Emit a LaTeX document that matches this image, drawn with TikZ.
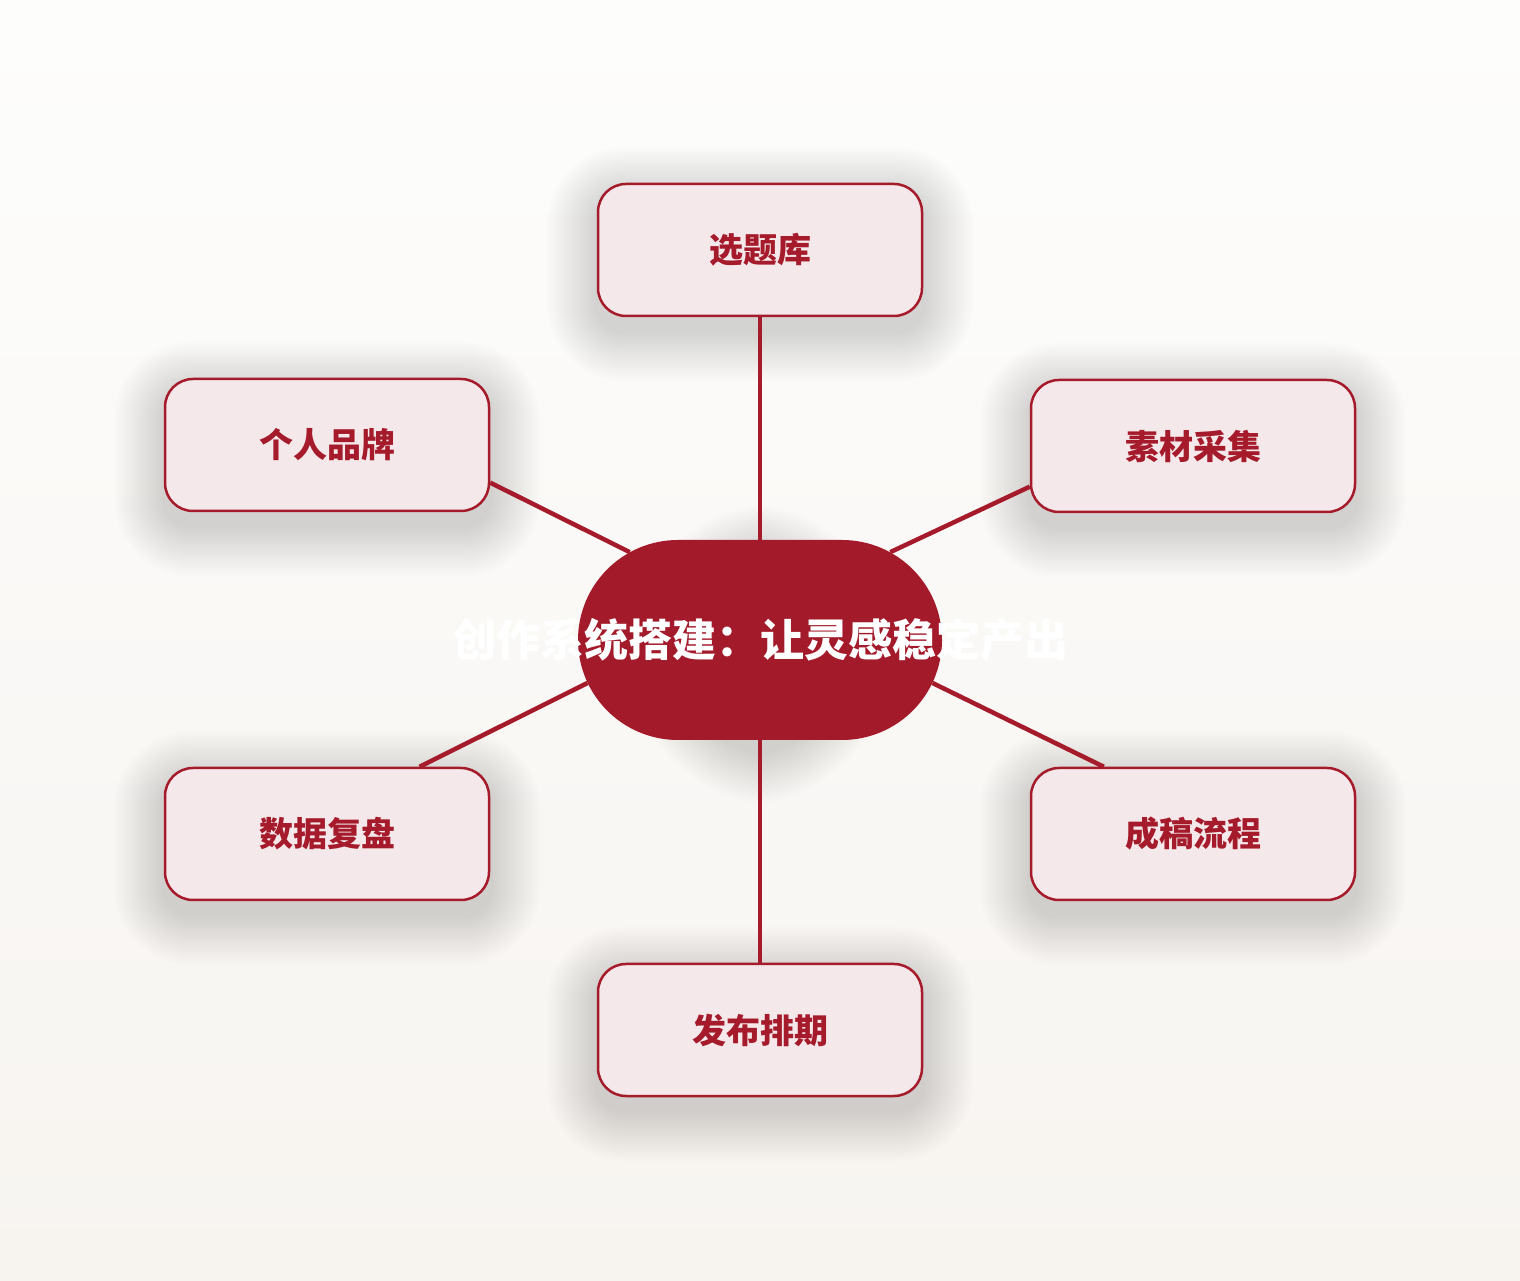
\documentclass[tikz,border=0pt]{standalone}
\usepackage{fontspec}
\newfontfamily\cjk{Noto Sans CJK SC}
\usetikzlibrary{shapes.misc,calc,backgrounds}
\definecolor{ink}{HTML}{A51B2B}
\definecolor{hubred}{HTML}{A31A2A}
\definecolor{boxfill}{HTML}{F4E8EA}
\definecolor{bgtop}{HTML}{FDFDFC}
\definecolor{bgbot}{HTML}{F7F4F0}
\tikzset{
  topicbox/.style={draw=ink, line width=2.5pt, fill=boxfill, rounded corners=28pt,
    minimum width=324pt, minimum height=132pt, text=ink,
    font={\cjk\bfseries\fontsize{34}{40}\selectfont}},
  hubnode/.style={rounded rectangle, fill=hubred, minimum width=364pt, minimum height=200pt,
    inner sep=0pt, text=white, font={\cjk\bfseries\fontsize{44}{50}\selectfont}},
  link/.style={draw=ink, line width=4.5pt},
  shadowstep/.style={fill=black, opacity=0.0075}
}
\begin{document}
\begin{tikzpicture}[x=1pt,y=1pt]
    \useasboundingbox (0,0) rectangle (1520,1280);

    \node[topicbox] at (760,1030) (topic) {选题库};
    \node[topicbox] at (327,835) (brand) {个人品牌};
    \node[topicbox] at (1193,834) (material) {素材采集};
    \node[topicbox] at (327,446) (review) {数据复盘};
    \node[topicbox] at (1193,446) (draft) {成稿流程};
    \node[topicbox] at (760,250) (publish) {发布排期};
    \node[hubnode] at (760,640) (hub) {\makebox[0pt]{创作系统搭建：让灵感稳定产出}};

    \draw[link] (topic.south) -- (hub.north);
    \draw[link] (brand.-13.5) -- (hub.146);
    \draw[link] (material.-166.5) -- (hub.34);
    \draw[link] (review.36.6) -- (hub.-166);
    \draw[link] (draft.143.4) -- (hub.-14);
    \draw[link] (publish.north) -- (hub.south);

    \begin{scope}[on background layer]
        \shade[top color=bgtop, bottom color=bgbot] (0,0) rectangle (1520,1280);
        \foreach \n in {topic,brand,material,review,draft,publish}
            \foreach \k in {1,...,20}
                \fill[shadowstep, rounded corners={28+2.5*\k}]
                    ($(\n.south west)+(-2.5*\k,-2.5*\k-14)$) rectangle ($(\n.north east)+(2.5*\k,2.5*\k-14)$);
        \foreach \k in {1,...,20}
            \fill[shadowstep, rounded corners={100+2.5*\k}]
                ($(hub.south west)+(-2.5*\k,-2.5*\k-14)$) rectangle ($(hub.north east)+(2.5*\k,2.5*\k-14)$);
    \end{scope}
\end{tikzpicture}
\end{document}
